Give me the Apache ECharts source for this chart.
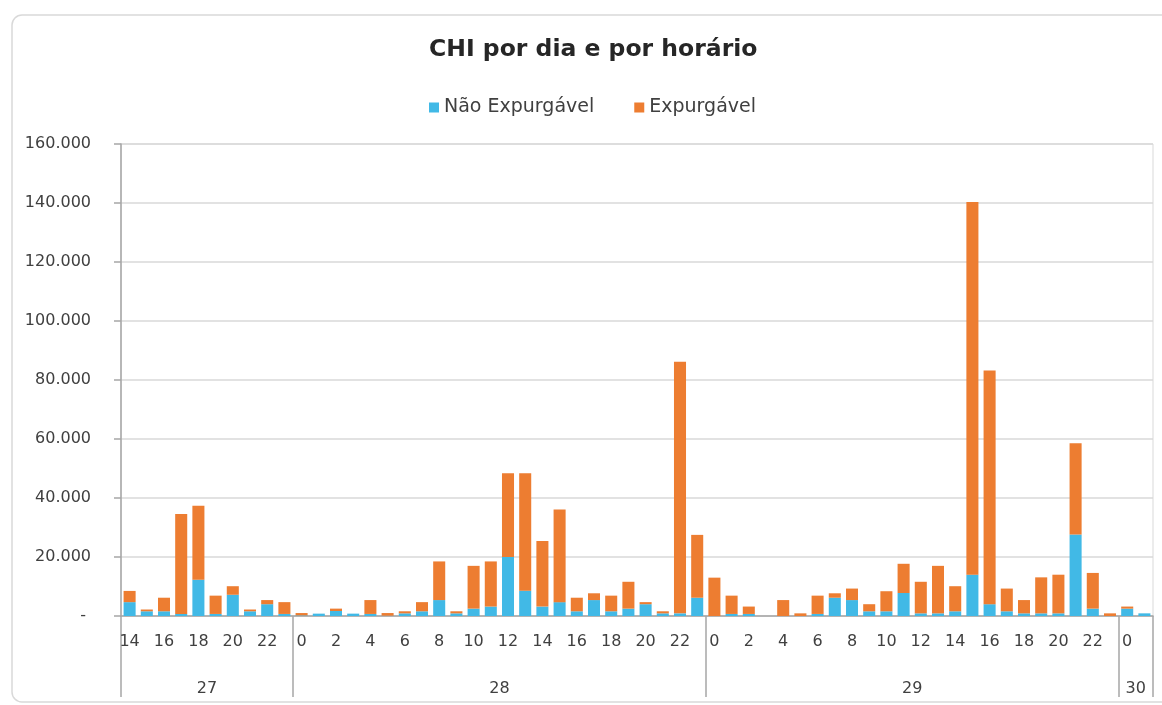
<!DOCTYPE html>
<html>
<head>
<meta charset="utf-8">
<title>CHI por dia e por horário</title>
<script src="https://cdn.jsdelivr.net/npm/echarts@6/dist/echarts.min.js"></script>
<style>
  html, body { margin: 0; padding: 0; background: #fff; }
  #chart { width: 1162px; height: 705px; }
</style>
</head>
<body>
<div id="chart"></div>
<script>
// dias e horas (eixo X em dois níveis)
const dayLabels = ['27', '28', '29', '30']
const dayHours = [
  [14, 15, 16, 17, 18, 19, 20, 21, 22, 23],
  [0, 1, 2, 3, 4, 5, 6, 7, 8, 9, 10, 11, 12, 13, 14, 15, 16, 17, 18, 19, 20, 21, 22, 23],
  [0, 1, 2, 3, 4, 5, 6, 7, 8, 9, 10, 11, 12, 13, 14, 15, 16, 17, 18, 19, 20, 21, 22, 23],
  [0, 1]
]

// Não Expurgável
const naoExp27 = [4700, 1600, 1600, 700, 12300, 700, 7200, 1600, 4000, 700]
const naoExp28 = [200, 800, 1700, 800, 700, 100, 900, 1600, 5400, 900, 2500, 3200, 20000, 8600, 3200, 4700, 1600, 5400, 1600, 2500, 4000, 900, 900, 6200]
const naoExp29 = [0, 700, 700, 0, 0, 0, 700, 6200, 5400, 1600, 1600, 7800, 900, 900, 1600, 14000, 4000, 1600, 900, 900, 900, 27600, 2500, 0]
const naoExp30 = [2500, 900]

// Expurgável
const exp27 = [3800, 600, 4600, 33900, 25100, 6200, 2900, 600, 1400, 4000]
const exp28 = [800, 0, 800, 0, 4700, 900, 700, 3100, 13100, 700, 14500, 15300, 28400, 39800, 22200, 31400, 4600, 2300, 5300, 9100, 700, 700, 85300, 21300]
const exp29 = [13000, 6200, 2500, 0, 5400, 900, 6200, 1500, 3900, 2400, 6800, 9900, 10700, 16100, 8500, 126300, 79200, 7700, 4500, 12200, 13100, 31000, 12100, 900]
const exp30 = [700, 0]

const yTicks = { min: 0, max: 160000, interval: 20000 }

const hours = dayHours.flat().map(String)
const naoExpurgavel = [].concat(naoExp27, naoExp28, naoExp29, naoExp30)
const expurgavel = [].concat(exp27, exp28, exp29, exp30)

// eixo dos dias: pontos nas fronteiras entre categorias
const boundaries = [0]
const dayCenters = []
dayHours.forEach((h) => {
  const start = boundaries[boundaries.length - 1]
  dayCenters.push(start + h.length / 2)
  boundaries.push(start + h.length)
})
const dayAxisData = []
for (let i = 0; i <= hours.length; i++) {
  const k = dayCenters.indexOf(i)
  dayAxisData.push(k >= 0 ? dayLabels[k] : '')
}

const font = 'DejaVu Sans'
const axisGray = '#a6a6a6'
const textColor = '#404040'

const chart = echarts.init(document.getElementById('chart'))
chart.setOption({
  animation: false,
  textStyle: { fontFamily: font },
  color: ['#41b9e6', '#ed7d31'],
  graphic: [{
    type: 'rect',
    shape: { x: 12, y: 15, width: 1170, height: 687, r: 10 },
    style: { fill: 'none', stroke: '#d9d9d9', lineWidth: 1.5 },
    silent: true
  }],
  title: {
    text: 'CHI por dia e por horário',
    left: 424,
    top: 33,
    textStyle: {
      fontFamily: font,
      fontSize: 23.5,
      fontWeight: 'bold',
      color: '#262626'
    }
  },
  legend: {
    data: ['Não Expurgável', 'Expurgável'],
    left: 424,
    top: 93,
    icon: 'rect',
    itemWidth: 10,
    itemHeight: 10,
    itemGap: 40,
    textStyle: { fontFamily: font, fontSize: 19, color: textColor }
  },
  grid: {
    left: 121,
    right: 9,
    top: 144,
    bottom: 89,
    show: true,
    borderColor: '#d9d9d9',
    borderWidth: 1
  },
  xAxis: [{
    type: 'category',
    position: 'bottom',
    data: hours,
    axisLine: { lineStyle: { color: axisGray, width: 1.5 } },
    axisTick: { interval: 0, length: 39, lineStyle: { color: axisGray, width: 1.5 } },
    axisLabel: {
      interval: 1,
      margin: 18,
      fontFamily: font,
      fontSize: 16,
      color: textColor
    }
  }, {
    type: 'category',
    position: 'bottom',
    boundaryGap: false,
    data: dayAxisData,
    axisLine: { show: false },
    axisTick: {
      length: 81,
      interval: (i) => boundaries.includes(i),
      lineStyle: { color: axisGray, width: 1.5 }
    },
    axisLabel: {
      interval: (i) => dayCenters.includes(i),
      margin: 65,
      fontFamily: font,
      fontSize: 16,
      color: textColor
    }
  }],
  yAxis: {
    type: 'value',
    min: yTicks.min,
    max: yTicks.max,
    interval: yTicks.interval,
    axisLine: { show: true, lineStyle: { color: axisGray, width: 1.5 } },
    axisTick: { show: true, length: 7, lineStyle: { color: axisGray, width: 1.5 } },
    splitLine: { lineStyle: { color: '#d9d9d9', width: 1.5 } },
    axisLabel: {
      margin: 30,
      fontFamily: font,
      fontSize: 16,
      color: textColor,
      formatter: (v) => v === 0 ? '- ' : String(v).replace(/\B(?=(\d{3})+(?!\d))/g, '.')
    }
  },
  series: [{
    name: 'Não Expurgável',
    type: 'bar',
    stack: 'chi',
    xAxisIndex: 0,
    barCategoryGap: '30%',
    data: naoExpurgavel
  }, {
    name: 'Expurgável',
    type: 'bar',
    stack: 'chi',
    xAxisIndex: 0,
    barCategoryGap: '30%',
    data: expurgavel
  }]
})
</script>
</body>
</html>
